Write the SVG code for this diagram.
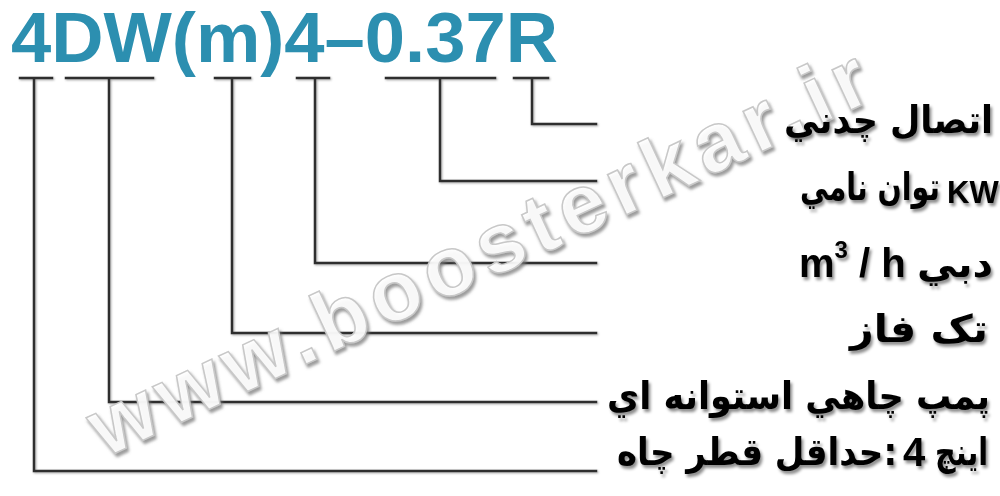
<svg xmlns="http://www.w3.org/2000/svg" width="1000" height="496" viewBox="0 0 1000 496">
<defs>
<filter id="sh" x="-10%" y="-30%" width="130%" height="170%">
<feDropShadow dx="2" dy="3" stdDeviation="1.6" flood-color="#000" flood-opacity="0.45"/>
</filter>
<filter id="lsh" x="-5%" y="-5%" width="110%" height="110%">
<feDropShadow dx="1" dy="1" stdDeviation="0.8" flood-color="#000" flood-opacity="0.35"/>
</filter>
<filter id="wsh" x="-10%" y="-30%" width="120%" height="160%">
<feDropShadow dx="2" dy="3" stdDeviation="1.5" flood-color="#777" flood-opacity="0.8"/>
</filter>
</defs>
<style>
.title{font-family:"Liberation Sans",Arial,sans-serif;font-weight:bold;font-size:70px;fill:#2c8fb0}
.ar{font-family:"DejaVu Sans",sans-serif;font-weight:bold;font-size:38px;fill:#000}
.lat{font-family:"Liberation Sans",Arial,sans-serif;font-weight:bold;fill:#000}
.ln{fill:none;stroke:#2e2e2e;stroke-width:2.5;stroke-linecap:square}
.wm{font-family:"Liberation Sans",Arial,sans-serif;font-weight:bold;font-size:84px;fill:#fff;fill-opacity:0.9;stroke:#c8c8c8;stroke-width:1.5}
</style>
<rect width="1000" height="496" fill="#fff"/>
<g id="title">
<text class="title" x="11" y="62" textLength="547" lengthAdjust="spacingAndGlyphs">4DW(m)4–0.37R</text>
</g>
<g id="connectors" class="ln" filter="url(#lsh)">
<path d="M20 78H52M34 78V471H596"/>
<path d="M66 78H153M109 78V402H596"/>
<path d="M215 78H250M232 78V333H596"/>
<path d="M297 78H329M315 78V263H596"/>
<path d="M386 78H495M440 78V181H596"/>
<path d="M514 78H548M532 78V124H596"/>
</g>
<g id="watermark" filter="url(#wsh)">
<text class="wm" x="105" y="458" transform="rotate(-25 105 458)" textLength="850" lengthAdjust="spacing">www.boosterkar.ir</text>
</g>
<g id="label-connection" filter="url(#sh)">
<text class="ar" x="784" y="133" textLength="209" lengthAdjust="spacingAndGlyphs">اتصال چدني</text>
</g>
<g id="label-power" filter="url(#sh)">
<text class="ar" x="800" y="200" textLength="140" lengthAdjust="spacingAndGlyphs">توان نامي</text>
<text class="lat" x="947" y="203" font-size="31">KW</text>
</g>
<g id="label-flow" filter="url(#sh)">
<text class="lat" x="799" y="277" font-size="40">m<tspan font-size="24" dy="-19">3</tspan><tspan dy="19"> / h</tspan></text>
<text class="ar" x="917" y="277" textLength="76" lengthAdjust="spacingAndGlyphs">دبي</text>
</g>
<g id="label-phase" filter="url(#sh)">
<text class="ar" x="850" y="342" textLength="138" lengthAdjust="spacingAndGlyphs">تک فاز</text>
</g>
<g id="label-pump" filter="url(#sh)">
<text class="ar" x="607" y="409" textLength="383" lengthAdjust="spacingAndGlyphs">پمپ چاهي استوانه اي</text>
</g>
<g id="label-diameter" filter="url(#sh)">
<text class="ar" x="617" y="465" textLength="280" lengthAdjust="spacingAndGlyphs">حداقل قطر چاه:</text>
<text class="lat" x="903" y="466" font-size="40">4</text>
<text class="ar" x="935" y="465" font-size="30" textLength="53" lengthAdjust="spacingAndGlyphs">اينچ</text>
</g>
</svg>
